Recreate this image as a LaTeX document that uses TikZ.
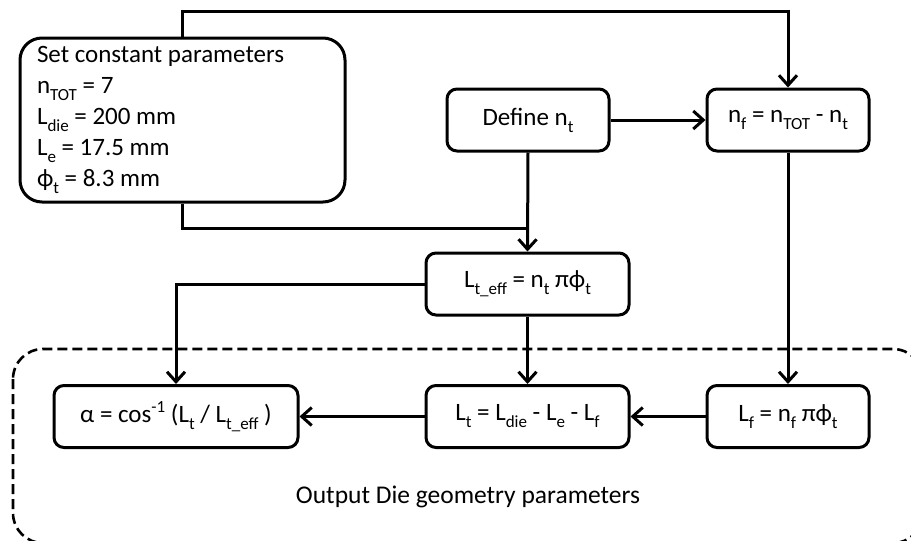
\documentclass[tikz,border=0pt]{standalone}
\usepackage{fontspec}
\setmainfont{Carlito}
\usetikzlibrary{arrows.meta}
\newcommand\sbx[1]{\raisebox{-0.28em}{\fontsize{17}{17}\selectfont #1}}
\newcommand\spx[1]{\raisebox{0.42em}{\fontsize{17}{17}\selectfont #1}}
\begin{document}
\begin{tikzpicture}[x=1pt,y=-1pt,line width=3pt,
  box/.style={draw, line width=3pt, rounded corners=10pt, inner sep=0pt,
    minimum height=62pt, font=\fontsize{25}{31}\selectfont},
  arr/.style={draw, line width=3pt, -{Straight Barb[length=10pt,width=18pt]}},
  conn/.style={draw, line width=3pt}]
\useasboundingbox (0,0) rectangle (911,541);
\clip (0,0) rectangle (911,541);
\draw[line width=2.6pt, dash pattern=on 10pt off 5pt, rounded corners=30pt] (13,349) rectangle (923,543);
\node[box, rounded corners=22pt, minimum width=325pt, minimum height=164pt,
  text width=291pt, align=flush left] (set) at (182.5,120)
  {Set constant parameters\\ n\sbx{TOT} = 7\\ L\sbx{die} = 200 mm\\ L\sbx{e} = 17.5 mm\\ ϕ\sbx{t} = 8.3 mm};
\node[box, minimum width=162pt] (def) at (528,120) {Define n\sbx{t}};
\node[box, minimum width=162pt] (nf) at (788,120) {n\sbx{f} = n\sbx{TOT} - n\sbx{t}};
\node[box, minimum width=203pt] (leff) at (527.5,284) {L\sbx{t\_eff} = n\sbx{t} πϕ\sbx{t}};
\node[box, minimum width=244pt] (alpha) at (176,416.5) {α = cos\spx{-1} (L\sbx{t} / L\sbx{t\_eff} )};
\node[box, minimum width=203pt] (lt) at (527.5,416.5) {L\sbx{t} = L\sbx{die} - L\sbx{e} - L\sbx{f}};
\node[box, minimum width=162pt] (lf) at (788,416.5) {L\sbx{f} = n\sbx{f} πϕ\sbx{t}};
\node[font=\fontsize{25.5}{31}\selectfont] (out) at (468,497) {Output Die geometry parameters};
\path[arr] (set.north) -- ++(0,-25) -| (nf.north);
\path[conn] (set.south) |- (def.south |- 0,228);
\path[arr] (def.south) -- (leff.north);
\path[arr] (def.east) -- (nf.west);
\path[arr] (leff.west) -| (alpha.north);
\path[arr] (leff.south) -- (lt.north);
\path[arr] (nf.south) -- (lf.north);
\path[arr] (lf.west) -- (lt.east);
\path[arr] (lt.west) -- (alpha.east);
\end{tikzpicture}
\end{document}
